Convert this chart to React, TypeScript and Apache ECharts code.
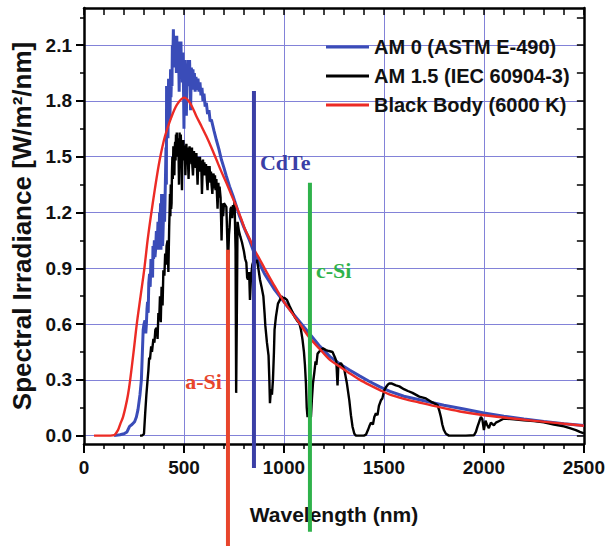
import React, { useEffect, useRef } from "react";
import * as echarts from "echarts";

// ---------- data ----------
const seriesNames = ["AM 0 (ASTM E-490)", "AM 1.5 (IEC 60904-3)", "Black Body (6000 K)"];

// AM 0 spectrum [wavelength nm, W/m2/nm]
const am0Spectrum: number[][] = [
  [150, 0.0], [180, 0.005], [200, 0.01], [215, 0.02], [228, 0.05], [240, 0.06], [253, 0.075], [262, 0.1],
  [270, 0.14], [280, 0.22], [287, 0.3], [292, 0.45], [296, 0.57], [300, 0.6], [305, 0.62], [309, 0.55],
  [312, 0.6], [315, 0.68], [318, 0.72], [321, 0.66], [324, 0.82], [328, 0.87], [331, 0.8], [335, 0.95],
  [340, 0.92], [343, 0.85], [345, 1.02], [348, 0.95], [352, 1.05], [355, 0.96], [358, 1.0], [362, 1.1],
  [366, 1.02], [370, 1.15], [373, 1.0], [375, 1.05], [378, 1.2], [380, 1.12], [383, 1.25], [385, 1.0],
  [388, 1.3], [390, 1.18], [393, 1.02], [395, 1.08], [398, 1.2], [400, 1.3], [403, 1.15], [405, 1.25],
  [408, 1.42], [410, 1.55], [412, 1.35], [413, 1.88], [416, 1.7], [418, 1.8], [420, 1.6], [423, 1.92],
  [425, 1.75], [428, 1.85], [430, 1.7], [433, 1.97], [435, 1.82], [438, 1.95], [440, 1.88], [442, 2.1],
  [444, 2.0], [447, 2.185], [449, 2.05], [452, 2.12], [454, 1.98], [456, 2.15], [458, 2.02], [460, 2.08],
  [462, 1.95], [464, 2.15], [466, 2.0], [468, 2.1], [470, 1.96], [472, 2.12], [474, 2.0], [476, 1.85],
  [478, 2.08], [480, 2.1], [482, 1.98], [485, 2.12], [487, 1.95], [490, 2.05], [492, 1.9], [495, 2.06],
  [497, 1.92], [500, 1.65], [502, 1.95], [504, 2.02], [507, 1.9], [510, 2.0], [512, 1.72], [515, 1.95],
  [518, 1.88], [520, 2.02], [524, 1.9], [528, 2.02], [531, 1.88], [533, 1.75], [537, 1.98], [541, 1.88],
  [545, 1.97], [549, 1.86], [552, 1.95], [556, 1.85], [560, 1.93], [565, 1.86], [570, 1.92], [575, 1.85],
  [580, 1.9], [585, 1.83], [590, 1.87], [595, 1.8], [600, 1.84], [606, 1.77], [612, 1.79], [618, 1.73],
  [625, 1.75], [631, 1.69], [637, 1.7], [650, 1.64], [662, 1.59], [675, 1.54], [687, 1.485], [700, 1.44],
  [712, 1.395], [728, 1.34], [745, 1.29], [760, 1.24], [778, 1.18], [800, 1.12], [828, 1.05], [852, 0.98],
  [880, 0.92], [903, 0.87], [950, 0.79], [1000, 0.72], [1050, 0.65], [1100, 0.585], [1130, 0.545],
  [1180, 0.48], [1230, 0.425], [1280, 0.385], [1330, 0.352], [1380, 0.32], [1430, 0.29], [1480, 0.262],
  [1530, 0.238], [1600, 0.212], [1700, 0.188], [1800, 0.163], [1900, 0.143], [2000, 0.122], [2100, 0.105],
  [2200, 0.09], [2300, 0.076], [2400, 0.064], [2500, 0.054],
];

// AM 1.5 spectrum
const am15Spectrum: number[][] = [
  [280, 0.0], [290, 0.0], [300, 0.01], [306, 0.12], [312, 0.22], [318, 0.3], [322, 0.35], [326, 0.42],
  [330, 0.41], [336, 0.48], [340, 0.45], [347, 0.52], [352, 0.5], [357, 0.57], [363, 0.58], [368, 0.52],
  [372, 0.66], [376, 0.62], [380, 0.75], [384, 0.61], [388, 0.8], [393, 0.7], [397, 0.89], [402, 0.86],
  [406, 0.98], [410, 0.92], [413, 1.02], [418, 1.05], [422, 0.88], [426, 1.12], [428, 1.2], [430, 1.3],
  [432, 1.18], [434, 1.35], [436, 1.22], [438, 1.25], [440, 1.42], [442, 1.5], [444, 1.38], [447, 1.556],
  [450, 1.45], [452, 1.4], [454, 1.55], [456, 1.58], [458, 1.48], [460, 1.62], [462, 1.52], [464, 1.63],
  [466, 1.5], [468, 1.58], [470, 1.5], [472, 1.6], [475, 1.35], [478, 1.63], [481, 1.52], [484, 1.62],
  [487, 1.5], [490, 1.32], [493, 1.58], [495, 1.5], [497, 1.59], [500, 1.48], [502, 1.56], [505, 1.5],
  [507, 1.4], [510, 1.52], [512, 1.57], [515, 1.47], [518, 1.55], [520, 1.48], [523, 1.38], [526, 1.5],
  [528, 1.556], [531, 1.47], [535, 1.53], [538, 1.46], [540, 1.55], [542, 1.45], [545, 1.4], [548, 1.48],
  [550, 1.53], [553, 1.45], [556, 1.52], [559, 1.44], [562, 1.52], [565, 1.44], [568, 1.35], [571, 1.45],
  [574, 1.5], [577, 1.42], [580, 1.5], [583, 1.42], [586, 1.48], [590, 1.3], [593, 1.42], [595, 1.485],
  [598, 1.4], [602, 1.47], [606, 1.4], [610, 1.46], [614, 1.38], [618, 1.32], [622, 1.45], [625, 1.38],
  [628, 1.45], [632, 1.36], [635, 1.42], [638, 1.35], [642, 1.3], [645, 1.38], [648, 1.41], [652, 1.33],
  [655, 1.4], [658, 1.32], [662, 1.38], [665, 1.3], [668, 1.22], [672, 1.36], [675, 1.28], [678, 1.34],
  [683, 1.28], [686, 1.15], [688, 1.05], [690, 1.15], [692, 1.25], [696, 1.18], [700, 1.25], [706, 1.24],
  [712, 1.23], [715, 1.12], [718, 1.0], [722, 0.98], [725, 1.08], [728, 1.12], [733, 1.22], [737, 1.23],
  [741, 1.17], [745, 1.24], [749, 1.19], [753, 1.26], [758, 1.0], [761, 0.23], [764, 0.6], [768, 1.15],
  [775, 1.1], [782, 1.07], [790, 1.04], [800, 0.99], [806, 0.95], [812, 0.93], [816, 0.85], [820, 0.84],
  [826, 0.88], [830, 0.73], [835, 0.85], [842, 0.92], [850, 0.945], [858, 0.93], [865, 0.945], [872, 0.9],
  [880, 0.84], [888, 0.8], [897, 0.75], [903, 0.66], [907, 0.59], [915, 0.5], [923, 0.43], [927, 0.3],
  [930, 0.175], [935, 0.25], [940, 0.22], [945, 0.3], [950, 0.45], [953, 0.57], [960, 0.64], [970, 0.71],
  [980, 0.73], [987, 0.75], [995, 0.74], [1003, 0.74], [1015, 0.73], [1027, 0.7], [1040, 0.67], [1053, 0.64],
  [1065, 0.62], [1077, 0.605], [1085, 0.57], [1093, 0.515], [1100, 0.45], [1105, 0.38], [1110, 0.28],
  [1114, 0.15], [1118, 0.1], [1125, 0.14], [1130, 0.1], [1135, 0.1], [1140, 0.2], [1145, 0.28], [1152, 0.34],
  [1158, 0.4], [1162, 0.38], [1168, 0.44], [1175, 0.45], [1185, 0.46], [1195, 0.47], [1210, 0.46],
  [1225, 0.455], [1243, 0.45], [1255, 0.42], [1262, 0.4], [1268, 0.27], [1272, 0.38], [1285, 0.39],
  [1295, 0.37], [1302, 0.355], [1315, 0.28], [1327, 0.19], [1335, 0.11], [1343, 0.048], [1352, 0.01],
  [1360, 0.0], [1380, 0.0], [1400, 0.0], [1410, 0.005], [1420, 0.03], [1427, 0.05], [1435, 0.07],
  [1445, 0.06], [1452, 0.1], [1460, 0.12], [1468, 0.11], [1475, 0.16], [1485, 0.19], [1492, 0.2],
  [1502, 0.245], [1510, 0.26], [1520, 0.275], [1527, 0.28], [1540, 0.28], [1560, 0.27], [1577, 0.265],
  [1600, 0.25], [1620, 0.24], [1643, 0.23], [1677, 0.21], [1710, 0.2], [1740, 0.18], [1768, 0.165],
  [1778, 0.13], [1785, 0.1], [1792, 0.06], [1800, 0.03], [1810, 0.01], [1825, 0.0], [1860, 0.0],
  [1910, 0.0], [1950, 0.002], [1960, 0.02], [1968, 0.048], [1978, 0.08], [1985, 0.1], [1992, 0.09],
  [2000, 0.03], [2008, 0.08], [2015, 0.06], [2025, 0.04], [2035, 0.07], [2050, 0.055], [2060, 0.07],
  [2070, 0.075], [2100, 0.092], [2150, 0.088], [2200, 0.083], [2250, 0.078], [2300, 0.072], [2350, 0.06],
  [2400, 0.05], [2430, 0.04], [2460, 0.03], [2480, 0.02], [2500, 0.012],
];

// Black body (6000 K) curve
const blackBody6000K: number[][] = [
  [50, 0], [100, 0], [150, 0.003], [170, 0.03], [183, 0.067], [195, 0.1], [208, 0.156], [220, 0.22],
  [231, 0.3], [248, 0.45], [264, 0.6], [283, 0.75], [302, 0.9], [318, 1.05], [333, 1.17], [355, 1.33],
  [378, 1.48], [405, 1.61], [436, 1.71], [465, 1.78], [500, 1.818], [530, 1.79], [562, 1.718], [587, 1.665],
  [612, 1.61], [637, 1.55], [662, 1.485], [687, 1.42], [712, 1.36], [737, 1.295], [762, 1.233], [785, 1.17],
  [805, 1.11], [828, 1.06], [852, 1.0], [878, 0.95], [903, 0.9], [950, 0.81], [1000, 0.72], [1040, 0.66],
  [1077, 0.605], [1127, 0.528], [1180, 0.465], [1227, 0.41], [1280, 0.37], [1327, 0.336], [1380, 0.3],
  [1427, 0.273], [1480, 0.245], [1527, 0.222], [1600, 0.198], [1677, 0.178], [1777, 0.153], [1880, 0.13],
  [1993, 0.111], [2120, 0.095], [2242, 0.081], [2370, 0.067], [2500, 0.053],
];

// band-gap markers
const bandNames = ["a-Si", "CdTe", "c-Si"];
const bandWavelengths = [720, 850, 1130];
const bandTops = [1.0, 1.853, 1.36];
const bandBottoms = [-0.62, -0.174, -0.517];
const bandLabelLevels = [0.29, 1.47, 0.89];

// axis ticks
const xTickMax = 2500;
const yMajorTicks = [0, 0.3, 0.6, 0.9, 1.2, 1.5, 1.8, 2.1];
const yMinorTicks = [0.15, 0.45, 0.75, 1.05, 1.35, 1.65, 1.95, 2.25];

// ---------- styles ----------
const SANS = "'Liberation Sans', Arial, sans-serif";
const SERIF = "'Liberation Serif', 'Times New Roman', serif";
const seriesColors = ["#3a4cb8", "#000000", "#ec2b25"];
const bandColors = ["#e8452c", "#3b3fa6", "#2fb24b"];
const bandLabelSide = [-1, 1, 1];
const GRID_COLOR = "#8282d8";
const Y_MIN = -0.045;
const Y_MAX = 2.3;

export default function App() {
  const ref = useRef<HTMLDivElement>(null);

  useEffect(() => {
    if (!ref.current) return;
    const chart = echarts.init(ref.current, undefined, { renderer: "svg" });

    const bandData = bandNames.map((n, i) => [bandWavelengths[i], bandTops[i], bandBottoms[i], bandLabelLevels[i]]);

    const axisLineStyle = { color: "#000", width: 2.5 };

    const option: any = {
      animation: false,
      backgroundColor: "#fff",
      grid: { left: 84, right: 23, top: 8, bottom: 102, containLabel: false },
      legend: {
        orient: "vertical",
        left: 321,
        top: 32,
        itemWidth: 43,
        itemHeight: 3,
        itemGap: 9,
        data: seriesNames.map((name) => ({ name, icon: "rect" })),
        textStyle: { fontFamily: SANS, fontSize: 20, fontWeight: "bold", color: "#111" },
      },
      xAxis: [
        {
          type: "value",
          position: "bottom",
          min: 0,
          max: xTickMax,
          interval: 500,
          name: "Wavelength (nm)",
          nameLocation: "middle",
          nameGap: 60,
          nameTextStyle: { fontFamily: SANS, fontSize: 21, fontWeight: "bold", color: "#111" },
          axisLine: { show: true, onZero: false, lineStyle: axisLineStyle },
          axisTick: { show: true, inside: false, length: 9, lineStyle: { color: "#000", width: 2 } },
          minorTick: { show: true, splitNumber: 5, length: 5, lineStyle: { color: "#000", width: 1.5 } },
          axisLabel: {
            formatter: (v: number) => String(v),
            fontFamily: SANS,
            fontSize: 19,
            fontWeight: "bold",
            color: "#111",
            margin: 14,
          },
          splitLine: { show: true, lineStyle: { color: GRID_COLOR, width: 1 } },
        },
        {
          type: "value",
          position: "top",
          min: 0,
          max: xTickMax,
          interval: 100,
          axisLine: { show: true, onZero: false, lineStyle: axisLineStyle },
          axisTick: { show: true, inside: true, length: 7, lineStyle: { color: "#000", width: 1.5 } },
          axisLabel: { show: false },
          splitLine: { show: false },
        },
      ],
      yAxis: [
        {
          type: "value",
          position: "left",
          min: Y_MIN,
          max: Y_MAX,
          name: "Spectral Irradiance [W/m²/nm]",
          nameLocation: "middle",
          nameGap: 49,
          nameTextStyle: { fontFamily: SANS, fontSize: 26, fontWeight: "bold", color: "#111" },
          axisLine: { show: true, onZero: false, lineStyle: axisLineStyle },
          axisTick: { show: true, inside: false, length: 8, customValues: yMajorTicks, lineStyle: { color: "#000", width: 2 } },
          axisLabel: {
            customValues: yMajorTicks,
            formatter: (v: number) => v.toFixed(1),
            fontFamily: SANS,
            fontSize: 19,
            fontWeight: "bold",
            color: "#111",
            margin: 12,
          },
          splitLine: { show: true, lineStyle: { color: GRID_COLOR, width: 1 } },
        },
        {
          type: "value",
          position: "left",
          min: Y_MIN,
          max: Y_MAX,
          axisLine: { show: false, onZero: false },
          axisTick: { show: true, inside: false, length: 4, customValues: yMinorTicks, lineStyle: { color: "#000", width: 1.5 } },
          axisLabel: { show: false },
          splitLine: { show: false },
        },
        {
          type: "value",
          position: "right",
          min: Y_MIN,
          max: Y_MAX,
          axisLine: { show: true, onZero: false, lineStyle: axisLineStyle },
          axisTick: {
            show: true,
            inside: true,
            length: 7,
            customValues: [...yMajorTicks, ...yMinorTicks].sort((a, b) => a - b),
            lineStyle: { color: "#000", width: 1.5 },
          },
          axisLabel: { show: false },
          splitLine: { show: false },
        },
      ],
      series: [
        {
          name: seriesNames[0],
          type: "line",
          data: am0Spectrum,
          showSymbol: false,
          symbol: "none",
          color: seriesColors[0],
          lineStyle: { color: seriesColors[0], width: 3 },
          z: 2,
        },
        {
          name: seriesNames[1],
          type: "line",
          data: am15Spectrum,
          showSymbol: false,
          symbol: "none",
          color: seriesColors[1],
          lineStyle: { color: seriesColors[1], width: 2.4 },
          z: 2,
        },
        {
          name: seriesNames[2],
          type: "line",
          data: blackBody6000K,
          showSymbol: false,
          symbol: "none",
          smooth: 0.3,
          color: seriesColors[2],
          lineStyle: { color: seriesColors[2], width: 2.4 },
          z: 2,
        },
        {
          name: "bands",
          type: "custom",
          clip: false,
          z: 5,
          data: bandData,
          encode: { x: 0, y: [1, 2] },
          renderItem: (params: any, api: any) => {
            const i = params.dataIndex;
            const x = api.value(0);
            const p1 = api.coord([x, api.value(1)]);
            const p2 = api.coord([x, api.value(2)]);
            const pl = api.coord([x, api.value(3)]);
            const side = bandLabelSide[i];
            return {
              type: "group",
              children: [
                {
                  type: "line",
                  shape: { x1: p1[0], y1: p1[1], x2: p2[0], y2: p2[1] },
                  style: { stroke: bandColors[i], lineWidth: 4 },
                },
                {
                  type: "text",
                  x: pl[0] + side * 6,
                  y: pl[1],
                  style: {
                    text: bandNames[i],
                    fill: bandColors[i],
                    fontFamily: SERIF,
                    fontSize: 22,
                    fontWeight: "bold",
                    align: side < 0 ? "right" : "left",
                    textAlign: side < 0 ? "right" : "left",
                    verticalAlign: "middle",
                    textVerticalAlign: "middle",
                  },
                },
              ],
            };
          },
        },
      ],
    };

    chart.setOption(option);
    return () => chart.dispose();
  }, []);

  return (
    <div
      ref={ref}
      style={{ position: "fixed", left: 0, top: 0, width: 608, height: 546, background: "#fff" }}
    />
  );
}
